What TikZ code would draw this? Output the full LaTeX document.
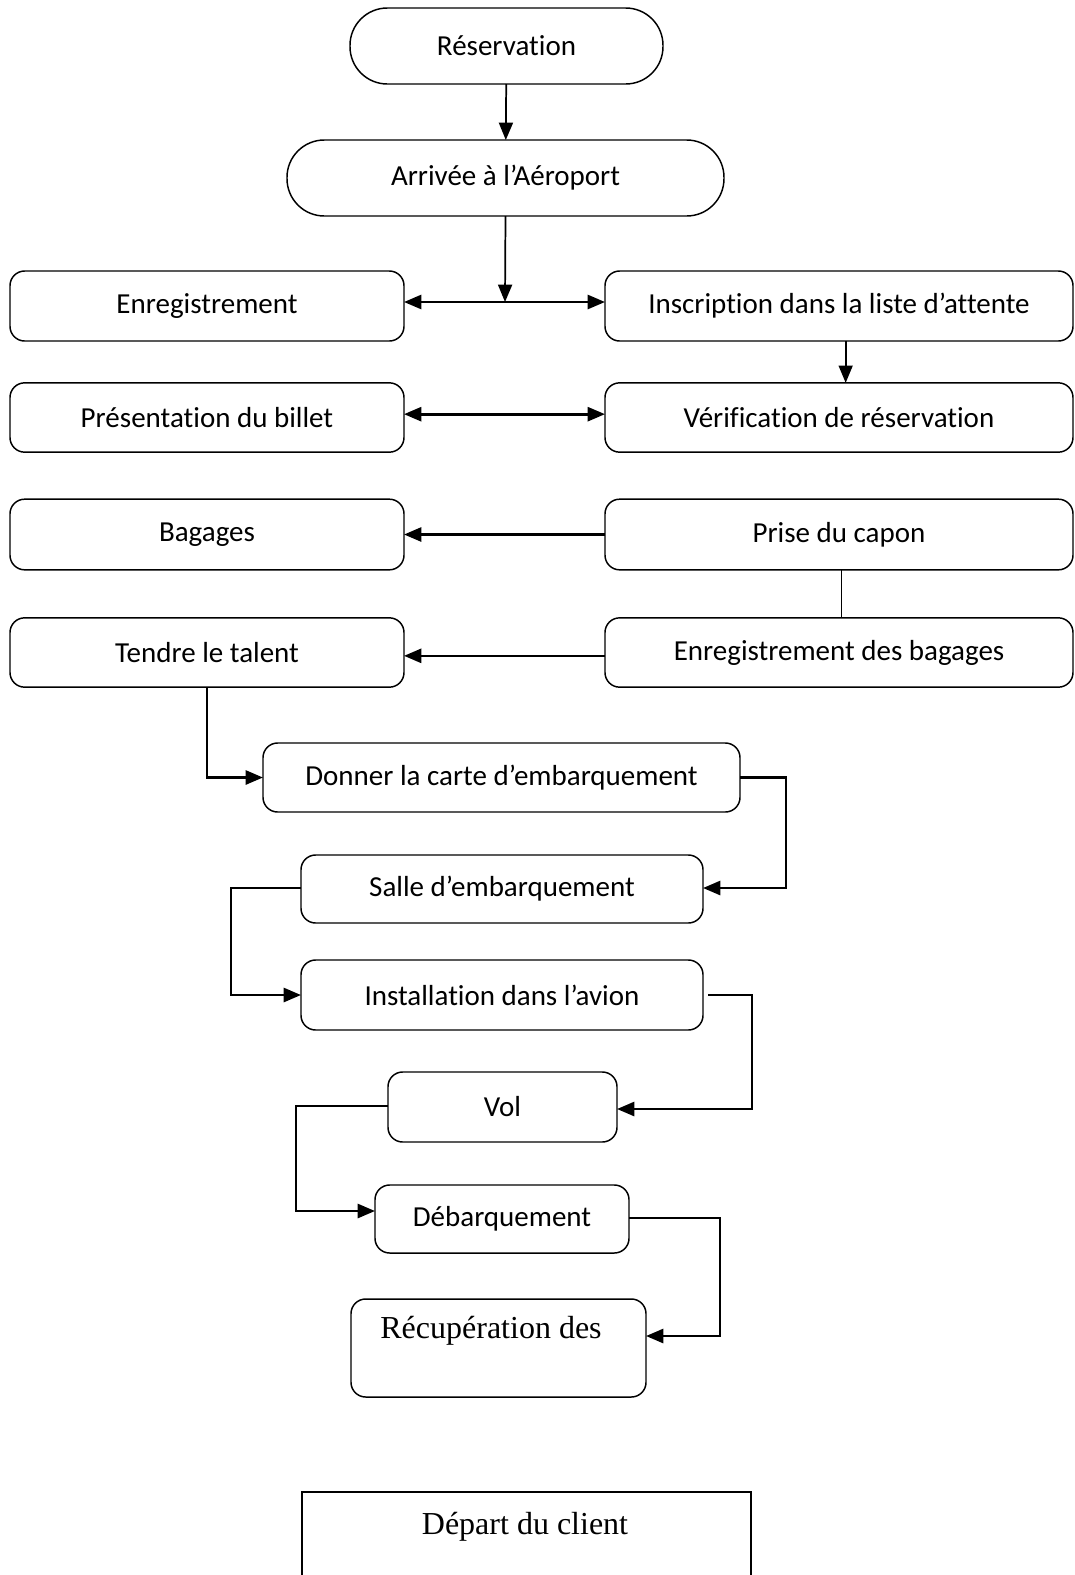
\documentclass[tikz,border=0pt]{standalone}
\usepackage{fontspec}
\setmainfont{Carlito}[Ligatures=NoCommon]
\newfontfamily\serifface{Liberation Serif}
\usetikzlibrary{arrows.meta}

\begin{document}
\begin{tikzpicture}[x=0.75pt,y=-0.75pt,
  every node/.style={inner sep=0pt, outer sep=0pt},
  txt/.style={font=\fontsize{21.75}{26}\selectfont},
  stadium/.style={draw, line width=1.1pt, rounded corners=28pt, txt, minimum height=57pt},
  stepbox/.style={draw, line width=1.1pt, rounded corners=11pt, txt},
  flow/.style={line width=2pt, -{Triangle[length=13pt,width=10.5pt]}},
  thinflow/.style={line width=1.3pt, -{Triangle[length=13pt,width=10.5pt]}},
  both/.style={line width=2pt, {Triangle[length=13pt,width=10.5pt]}-{Triangle[length=13pt,width=10.5pt]}},
  link/.style={line width=1.2pt}]

\useasboundingbox (0,0) rectangle (1075,1575);

% top of the flow
\node[stadium, minimum width=234.75pt] (res) at (506.5,46) {Réservation};
\node[stadium, minimum width=327.75pt] (arr) at (505.5,178) {Arrivée à l’Aéroport};

% left column
\node[stepbox, minimum width=295.5pt, minimum height=52.5pt] (enr)  at (207,306)   {Enregistrement};
\node[stepbox, minimum width=295.5pt, minimum height=52pt]   (pres) at (207,417.5) {Présentation du billet};
\node[stepbox, minimum width=295.5pt, minimum height=53pt]   (bag)  at (207,534.5) {Bagages};
\node[stepbox, minimum width=295.5pt, minimum height=52pt]   (tend) at (207,652.5) {Tendre le talent};

% right column
\node[stepbox, minimum width=351pt, minimum height=52.5pt] (insc)  at (839,306)   {Inscription dans la liste d’attente};
\node[stepbox, minimum width=351pt, minimum height=52pt]   (verif) at (839,417.5) {Vérification de réservation};
\node[stepbox, minimum width=351pt, minimum height=53pt]   (prise) at (839,534.5) {Prise du capon};
\node[stepbox, minimum width=351pt, minimum height=52pt]   (enrb)  at (839,652.5) {Enregistrement des bagages};

% central chain
\node[stepbox, minimum width=357.75pt, minimum height=51.75pt] (donn) at (501.5,777.5) {Donner la carte d’embarquement};
\node[stepbox, minimum width=301.5pt, minimum height=51pt]     (sal)  at (502,889)    {Salle d’embarquement};
\node[stepbox, minimum width=301.5pt, minimum height=52.5pt]   (inst) at (502,995)    {Installation dans l’avion};
\node[stepbox, minimum width=171.75pt, minimum height=52.5pt]  (vol)  at (502.5,1107) {Vol};
\node[stepbox, minimum width=190.5pt, minimum height=51pt]     (deb)  at (502,1219)   {Débarquement};
\node[stepbox, minimum width=221.25pt, minimum height=73.5pt]  (rec)  at (498.5,1348) {};
\node[font=\serifface\fontsize{24}{28}\selectfont] (rect) at (491,1331) {Récupération des};

% final box, running off the bottom edge
\node[draw, line width=1.1pt, minimum width=336.75pt, minimum height=66pt, anchor=north] (dep) at (526.5,1492) {};
\node[font=\serifface\fontsize{24}{28}\selectfont] (dept) at (525,1527) {Départ du client};

% connectors
\coordinate (j1) at (505,302);
\draw[thinflow] (res) -- (arr);
\draw[thinflow] (arr.south) -- (j1);
\draw[both] (enr.east |- j1) -- (insc.west |- j1);
\draw[thinflow] ([xshift=5pt]insc.south) -- ([xshift=5pt]verif.north);
\draw[both] ([yshift=2.5pt]pres.east) -- ([yshift=2.5pt]verif.west);
\draw[flow] (prise.west) -- (bag.east);
\draw[link] ([xshift=2pt]prise.south) -- ([xshift=2pt]enrb.north);
\draw[flow] ([yshift=-2.5pt]enrb.west) -- ([yshift=-2.5pt]tend.east);

\draw[flow] (tend.south) |- (donn.west);
\draw[flow] (donn.east) -| (786,888) -- (sal.east |- 0,888);
\draw[flow] (sal.west |- 0,888) -| (231,995) -- (inst.west);
\draw[flow] (708,995) -| (752,1109) -- (vol.east |- 0,1109);
\draw[flow] (vol.west |- 0,1106) -| (296,1211) -- (deb.west |- 0,1211);
\draw[flow] (deb.east |- 0,1218) -| (720,1336) -- (rec.east |- 0,1336);

\end{tikzpicture}
\end{document}
